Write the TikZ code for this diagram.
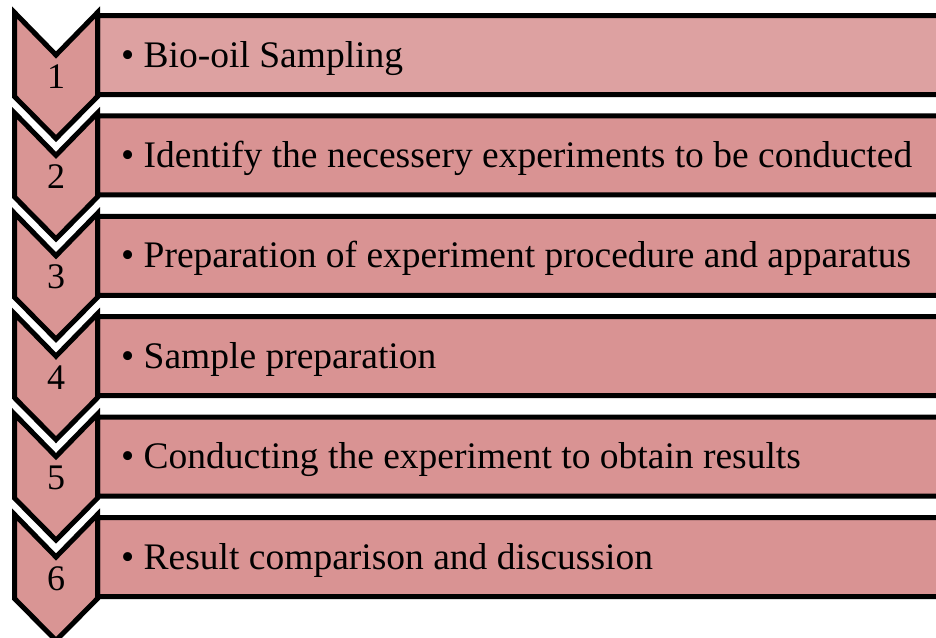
\documentclass[tikz,border=0pt]{standalone}
\usepackage{fontspec}
\setmainfont{Liberation Serif}
\definecolor{barA}{RGB}{221,161,161}
\definecolor{barB}{RGB}{217,147,147}
\definecolor{chevfill}{RGB}{217,149,148}
\begin{document}
\begin{tikzpicture}[x=1pt,y=-1pt,
  bar/.style={draw=black,line width=5pt,rounded corners=2pt,minimum width=847.5pt,minimum height=79pt,inner sep=0pt,fill=barB},
  chev/.style={draw=black,line width=5pt,line join=miter,fill=chevfill},
  lbl/.style={anchor=base west,inner sep=0pt,font=\fontsize{37.5}{44}\selectfont},
  num/.style={anchor=base,inner sep=0pt,font=\fontsize{36}{42}\selectfont}]
\useasboundingbox (0,0) rectangle (936,637);
\foreach \i/\t in {1/{Bio-oil Sampling},2/{Identify the necessery experiments to be conducted},3/{Preparation of experiment procedure and apparatus},4/{Sample preparation},5/{Conducting the experiment to obtain results},6/{Result comparison and discussion}}{
  \pgfmathsetmacro{\yo}{100.4*(\i-1)}
  \ifnum\i=1
    \node[bar,fill=barA] (b\i) at (521.25,55+\yo) {};
  \else
    \node[bar] (b\i) at (521.25,55+\yo) {};
  \fi
  \node[lbl] (t\i) at (121,67+\yo) {• \t};
  \draw[chev] (14.5,12.5+\yo) -- (56,55+\yo) -- (97.5,12.5+\yo) -- (97.5,96.5+\yo) -- (56,138.5+\yo) -- (14.5,96.5+\yo) -- cycle;
  \node[num] (n\i) at (56,88+\yo) {\i};
}
\end{tikzpicture}
\end{document}
